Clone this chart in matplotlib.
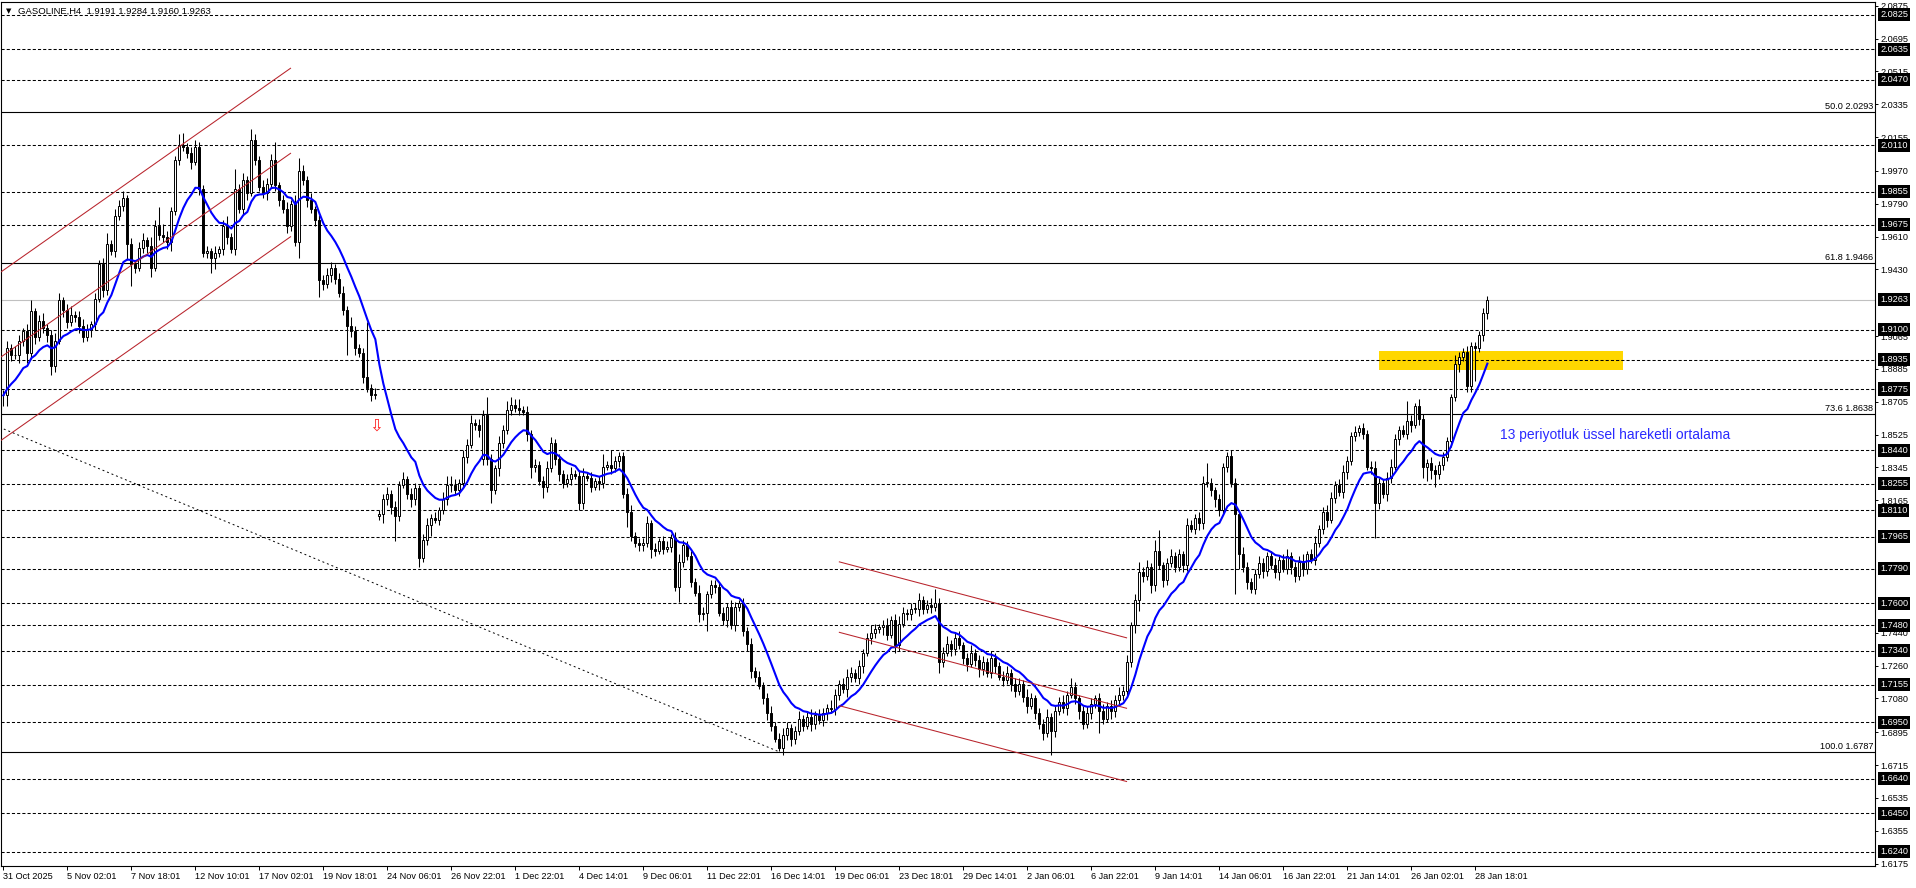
import numpy as np
import pandas as pd
import matplotlib
matplotlib.use('Agg')
import matplotlib.pyplot as plt
import matplotlib.transforms as mtransforms
from matplotlib.patches import Rectangle

plt.rcParams['font.family'] = ['Liberation Sans', 'DejaVu Sans']

# GASOLINE H4 closes, one per bar
closes = [
    1.874, 1.900, 1.896, 1.896, 1.904, 1.909, 1.897, 1.920, 1.906, 1.915,
    1.911, 1.907, 1.890, 1.904, 1.926, 1.921, 1.914, 1.918, 1.917, 1.912,
    1.906, 1.910, 1.913, 1.927, 1.946, 1.932, 1.957, 1.953, 1.972, 1.978,
    1.982, 1.957, 1.946, 1.944, 1.955, 1.959, 1.956, 1.944, 1.967, 1.962,
    1.961, 1.958, 1.975, 2.003, 2.011, 2.010, 2.007, 2.002, 2.010, 1.987,
    1.952, 1.953, 1.949, 1.952, 1.954, 1.967, 1.961, 1.954, 1.987, 1.976,
    1.992, 1.985, 2.014, 2.003, 1.988, 1.985, 1.990, 2.003, 1.989, 1.981,
    1.976, 1.967, 1.979, 1.958, 1.997, 1.992, 1.981, 1.976, 1.970, 1.937,
    1.935, 1.940, 1.944, 1.938, 1.930, 1.921, 1.912, 1.909, 1.900, 1.897,
    1.884, 1.878, 1.874, 1.875, 1.809, 1.817, 1.820, 1.813, 1.808, 1.825,
    1.828, 1.820, 1.817, 1.823, 1.785, 1.795, 1.803, 1.807, 1.806, 1.811,
    1.817, 1.825, 1.825, 1.822, 1.826, 1.840, 1.847, 1.859, 1.858, 1.855,
    1.863, 1.839, 1.822, 1.834, 1.848, 1.855, 1.866, 1.869, 1.867, 1.866,
    1.865, 1.853, 1.835, 1.836, 1.827, 1.824, 1.834, 1.848, 1.839, 1.831,
    1.826, 1.828, 1.831, 1.830, 1.815, 1.830, 1.829, 1.824, 1.827, 1.826,
    1.835, 1.836, 1.834, 1.838, 1.841, 1.820, 1.810, 1.797, 1.793, 1.792,
    1.793, 1.804, 1.790, 1.789, 1.794, 1.790, 1.791, 1.796, 1.769, 1.783,
    1.792, 1.786, 1.772, 1.766, 1.754, 1.755, 1.765, 1.770, 1.769, 1.755,
    1.751, 1.758, 1.748, 1.758, 1.760, 1.745, 1.738, 1.723, 1.720, 1.715,
    1.708, 1.700, 1.693, 1.686, 1.681, 1.688, 1.692, 1.686, 1.690, 1.697,
    1.693, 1.698, 1.694, 1.699, 1.696, 1.700, 1.703, 1.702, 1.710, 1.716,
    1.713, 1.720, 1.722, 1.719, 1.726, 1.733, 1.741, 1.744, 1.746, 1.747,
    1.748, 1.743, 1.751, 1.737, 1.749, 1.755, 1.754, 1.757, 1.757, 1.762,
    1.757, 1.759, 1.758, 1.760, 1.728, 1.733, 1.738, 1.735, 1.741, 1.737,
    1.730, 1.727, 1.733, 1.729, 1.724, 1.728, 1.722, 1.730, 1.726, 1.720,
    1.718, 1.722, 1.716, 1.712, 1.716, 1.709, 1.704, 1.708, 1.700, 1.694,
    1.689, 1.698, 1.690, 1.701, 1.706, 1.703, 1.710, 1.714, 1.708, 1.701,
    1.694, 1.700, 1.705, 1.708, 1.701, 1.697, 1.704, 1.701, 1.707, 1.710,
    1.712, 1.728, 1.748, 1.762, 1.777, 1.775, 1.780, 1.770, 1.789, 1.781,
    1.773, 1.782, 1.786, 1.780, 1.787, 1.781, 1.803, 1.801, 1.807, 1.804,
    1.826, 1.826, 1.822, 1.817, 1.811, 1.835, 1.841, 1.826, 1.809, 1.787,
    1.780, 1.772, 1.768, 1.776, 1.782, 1.778, 1.786, 1.781, 1.777, 1.784,
    1.779, 1.786, 1.780, 1.775, 1.783, 1.779, 1.787, 1.784, 1.793, 1.801,
    1.810, 1.806, 1.818, 1.825, 1.821, 1.832, 1.838, 1.852, 1.854, 1.856,
    1.853, 1.835, 1.834, 1.815, 1.826, 1.820, 1.829, 1.835, 1.850, 1.855,
    1.853, 1.860, 1.858, 1.868, 1.861, 1.835, 1.837, 1.833, 1.831, 1.836,
    1.840, 1.849, 1.873, 1.891, 1.895, 1.898, 1.879, 1.901, 1.900, 1.907,
    1.919, 1.9263,
]
# wick lengths above / below the body, in thousandths
wick_up = [
    3, 4, 2, 5, 3, 2, 4, 6, 2, 3, 4, 2, 3, 4, 4, 2, 3, 5, 2, 3,
    4, 3, 2, 3, 2, 3, 6, 2, 4, 3, 4, 2, 3, 2, 3, 4, 2, 5, 3, 10,
    6, 3, 2, 2, 6, 7, 2, 3, 4, 3, 2, 3, 2, 4, 2, 3, 5, 2, 11, 3,
    4, 2, 6, 3, 2, 4, 3, 3, 10, 2, 3, 4, 2, 5, 7, 3, 2, 4, 2, 3,
    3, 4, 3, 2, 3, 4, 2, 5, 3, 2, 3, 30, 2, 3, 2, 3, 4, 2, 3, 2,
    4, 2, 3, 3, 2, 3, 4, 2, 3, 2, 4, 5, 5, 3, 2, 4, 3, 4, 2, 3,
    3, 10, 3, 2, 4, 3, 5, 4, 3, 5, 2, 3, 2, 3, 2, 3, 4, 3, 2, 3,
    2, 3, 4, 2, 3, 4, 2, 3, 2, 3, 7, 2, 8, 3, 2, 2, 3, 4, 2, 3,
    3, 4, 2, 3, 2, 3, 3, 2, 3, 4, 3, 2, 3, 2, 4, 3, 2, 3, 3, 2,
    3, 2, 4, 3, 2, 3, 2, 3, 2, 3, 2, 3, 4, 2, 3, 4, 3, 2, 3, 4,
    2, 3, 4, 2, 3, 3, 2, 4, 3, 2, 3, 4, 3, 2, 3, 2, 3, 4, 3, 2,
    3, 4, 2, 3, 4, 3, 2, 3, 3, 4, 2, 3, 4, 8, 3, 3, 4, 2, 3, 4,
    2, 3, 4, 2, 3, 3, 2, 4, 3, 2, 3, 4, 2, 3, 3, 2, 4, 3, 2, 3,
    3, 4, 2, 3, 3, 4, 2, 5, 3, 2, 3, 4, 3, 2, 3, 4, 2, 3, 3, 4,
    3, 4, 2, 3, 6, 3, 4, 2, 6, 11, 2, 3, 4, 2, 3, 2, 4, 3, 2, 3,
    4, 11, 3, 2, 3, 2, 2, 3, 3, 2, 4, 3, 2, 3, 4, 3, 2, 3, 4, 2,
    3, 4, 2, 3, 3, 4, 2, 3, 4, 2, 3, 4, 3, 2, 3, 4, 3, 2, 3, 2,
    3, 2, 3, 4, 3, 2, 3, 4, 3, 2, 3, 11, 3, 2, 4, 3, 2, 3, 3, 2,
    3, 2, 2, 5, 3, 2, 3, 2, 2, 2, 3, 2,
]
wick_dn = [
    6, 6, 3, 2, 4, 3, 5, 3, 4, 2, 3, 4, 5, 3, 2, 4, 3, 2, 3, 4,
    3, 2, 4, 3, 2, 4, 3, 2, 3, 2, 3, 9, 12, 3, 2, 3, 4, 5, 2, 3,
    3, 4, 5, 2, 3, 2, 3, 4, 2, 3, 2, 3, 8, 6, 2, 3, 4, 2, 3, 2,
    3, 4, 2, 3, 2, 3, 4, 2, 3, 3, 2, 4, 3, 2, 9, 3, 4, 2, 3, 9,
    3, 2, 4, 3, 2, 3, 16, 3, 4, 2, 3, 2, 3, 2, 2, 5, 3, 4, 14, 3,
    2, 3, 4, 3, 5, 2, 3, 6, 2, 3, 2, 3, 4, 2, 3, 2, 3, 2, 3, 4,
    3, 3, 7, 2, 4, 3, 2, 3, 2, 3, 2, 4, 6, 3, 2, 6, 3, 2, 3, 4,
    3, 2, 3, 2, 4, 3, 2, 3, 2, 4, 3, 2, 3, 2, 3, 2, 8, 3, 2, 3,
    3, 2, 5, 3, 2, 3, 2, 3, 2, 8, 3, 2, 3, 2, 4, 3, 10, 2, 3, 2,
    3, 4, 2, 3, 2, 3, 4, 4, 3, 2, 3, 4, 3, 2, 2, 4, 3, 4, 3, 2,
    3, 2, 4, 3, 2, 3, 4, 2, 3, 3, 2, 4, 3, 2, 3, 4, 2, 3, 3, 2,
    4, 3, 2, 4, 3, 2, 3, 3, 2, 4, 3, 2, 3, 2, 6, 3, 2, 4, 3, 2,
    3, 4, 2, 3, 4, 3, 2, 3, 4, 2, 3, 2, 4, 3, 2, 3, 4, 2, 3, 3,
    4, 2, 13, 3, 2, 3, 4, 2, 3, 4, 3, 2, 3, 2, 12, 3, 2, 4, 3, 2,
    3, 2, 3, 4, 6, 3, 2, 4, 3, 2, 4, 3, 2, 3, 2, 4, 3, 2, 3, 4,
    3, 2, 3, 4, 3, 2, 3, 2, 44, 8, 3, 4, 2, 3, 2, 4, 3, 2, 3, 4,
    2, 3, 4, 3, 2, 4, 3, 2, 3, 2, 3, 4, 2, 3, 2, 3, 4, 2, 3, 2,
    3, 2, 3, 19, 3, 2, 4, 3, 2, 3, 2, 3, 4, 2, 3, 6, 8, 5, 7, 3,
    3, 2, 3, 2, 4, 2, 3, 3, 18, 2, 3, 3,
]
gap_opens = {94: 1.808, 120: 1.839}

x_labels = ['31 Oct 2025', '5 Nov 02:01', '7 Nov 18:01', '12 Nov 10:01', '17 Nov 02:01',
            '19 Nov 18:01', '24 Nov 06:01', '26 Nov 22:01', '1 Dec 22:01', '4 Dec 14:01',
            '9 Dec 06:01', '11 Dec 22:01', '16 Dec 14:01', '19 Dec 06:01', '23 Dec 18:01',
            '29 Dec 14:01', '2 Jan 06:01', '6 Jan 22:01', '9 Jan 14:01', '14 Jan 06:01',
            '16 Jan 22:01', '21 Jan 14:01', '26 Jan 02:01', '28 Jan 18:01']
bars_per_label = 16

dash_levels = [2.0825, 2.0635, 2.0470, 2.0110, 1.9855, 1.9675, 1.9100, 1.8935, 1.8775,
               1.8440, 1.8255, 1.8110, 1.7965, 1.7790, 1.7600, 1.7480, 1.7340, 1.7155,
               1.6950, 1.6640, 1.6450, 1.6240]
fib_pcts = ['50.0', '61.8', '73.6', '100.0']
fib_prices = [2.0293, 1.9466, 1.8638, 1.6787]
bid_price = 1.9263
axis_ticks = [2.0875, 2.0695, 2.0515, 2.0335, 2.0155, 1.9970, 1.9790, 1.9610, 1.9430,
              1.9065, 1.8885, 1.8705, 1.8525, 1.8345, 1.8165, 1.7440, 1.7260, 1.7080,
              1.6895, 1.6715, 1.6535, 1.6355, 1.6175]

# drawn objects (bar index, price)
up_chan_x = [-1.0, 71.8]
up_chan_y = [(1.9410, 2.0532), (1.8944, 2.0066), (1.8487, 1.9609)]
dn_chan_x = [209.0, 280.8]
dn_chan_y = [(1.7828, 1.7412), (1.7442, 1.7026), (1.7040, 1.6625)]
trend_x = [-1.0, 194.0]
trend_y = [1.8566, 1.6787]
zone_x = [343.9, 404.9]
zone_y = [1.8878, 1.8982]
arrow_pos = (93.2, 1.8577)
ema_note = (374.2, 1.8522)
ema_text = '13 periyotluk üssel hareketli ortalama'
title = 'GASOLINE,H4  1.9191 1.9284 1.9160 1.9263'

assert len(closes) == len(wick_up) == len(wick_dn)

n = len(closes)
x = np.arange(n)
c = np.array(closes)
o = np.r_[c[0], c[:-1]]
for k, v in gap_opens.items():
    o[k] = v
hi = np.maximum(o, c) + np.array(wick_up) / 1000
lo = np.minimum(o, c) - np.array(wick_dn) / 1000
ema = pd.Series(c).ewm(span=13, adjust=False).mean()

W, H = 1916, 888
fig = plt.figure(figsize=(W / 100, H / 100), dpi=100)
ax = fig.add_axes([1 / W, 22 / H, 1874 / W, 864 / H])
ax.set_xlim(-0.58, 467.9)
ax.set_ylim(1.6162, 2.0895)

for s in ax.spines.values():
    s.set_linewidth(0.8)
    s.set_color('black')

# levels
ax.add_patch(Rectangle((zone_x[0], zone_y[0]), zone_x[1] - zone_x[0], zone_y[1] - zone_y[0],
                       facecolor='#ffd700', edgecolor='none', zorder=1))
for lv in dash_levels:
    ax.axhline(lv, color='black', lw=0.75, ls=(0, (3, 2)), zorder=2)
for p in fib_prices:
    ax.axhline(p, color='black', lw=0.8, zorder=2)
ax.axhline(bid_price, color='#c0c0c0', lw=0.8, zorder=2)

# candles
up = c >= o
ax.vlines(x, lo, hi, color='black', lw=0.75, zorder=3)
body = np.maximum(np.abs(c - o), 0.0004)
ax.bar(x[up], body[up], bottom=np.minimum(o, c)[up], width=0.5,
       facecolor='white', edgecolor='black', lw=0.7, zorder=4)
ax.bar(x[~up], body[~up], bottom=np.minimum(o, c)[~up], width=0.5,
       facecolor='black', edgecolor='black', lw=0.7, zorder=4)

ax.plot(x, ema, color='#0000ff', lw=1.5, zorder=5)

red = '#b8232b'
for y0, y1 in up_chan_y:
    ax.plot(up_chan_x, [y0, y1], color=red, lw=0.75, zorder=5)
for y0, y1 in dn_chan_y:
    ax.plot(dn_chan_x, [y0, y1], color=red, lw=0.75, zorder=5)
ax.plot(trend_x, trend_y, color='black', lw=0.7, ls=(0, (2, 3)), zorder=5)

ax.text(arrow_pos[0], arrow_pos[1], '\u21e9', color='#ff2020', fontsize=12,
        family='DejaVu Sans', ha='center', va='center', zorder=6)
ax.text(ema_note[0], ema_note[1], ema_text, color='#2a2aff', fontsize=10,
        ha='left', va='center', zorder=6)

# title
ax.text(5 / 1874, 1 - 9 / 864, '\u25bc', transform=ax.transAxes, fontsize=5,
        family='DejaVu Sans', ha='left', va='center')
ax.text(17 / 1874, 1 - 9 / 864, title, transform=ax.transAxes, fontsize=6.8,
        ha='left', va='center')

# axes ticks
ax.yaxis.tick_right()
ax.set_yticks(axis_ticks)
ax.set_yticklabels(['%.4f' % t for t in axis_ticks])
ax.tick_params(axis='y', length=2.2, width=0.7, pad=1.5, labelsize=6.6)
ax.set_xticks(np.arange(len(x_labels)) * bars_per_label)
ax.set_xticklabels(x_labels)
ax.tick_params(axis='x', length=3, width=0.7, pad=1.5, labelsize=6.6)
for lbl in ax.get_xticklabels():
    lbl.set_ha('left')

blend = mtransforms.blended_transform_factory(ax.transAxes, ax.transData)
for lv in dash_levels + [bid_price]:
    ax.text(1 + 5 / 1874, lv, '%.4f' % lv, transform=blend, color='white', fontsize=6.6,
            ha='left', va='center', zorder=10,
            bbox=dict(boxstyle='square,pad=0.22', fc='black', ec='none'))
for pct, p in zip(fib_pcts, fib_prices):
    ax.text(1 - 2 / 1874, p + 0.0003, '%s %.4f' % (pct, p), transform=blend, fontsize=6.6,
            ha='right', va='bottom', zorder=6)

fig.savefig('out.png', dpi=100)
